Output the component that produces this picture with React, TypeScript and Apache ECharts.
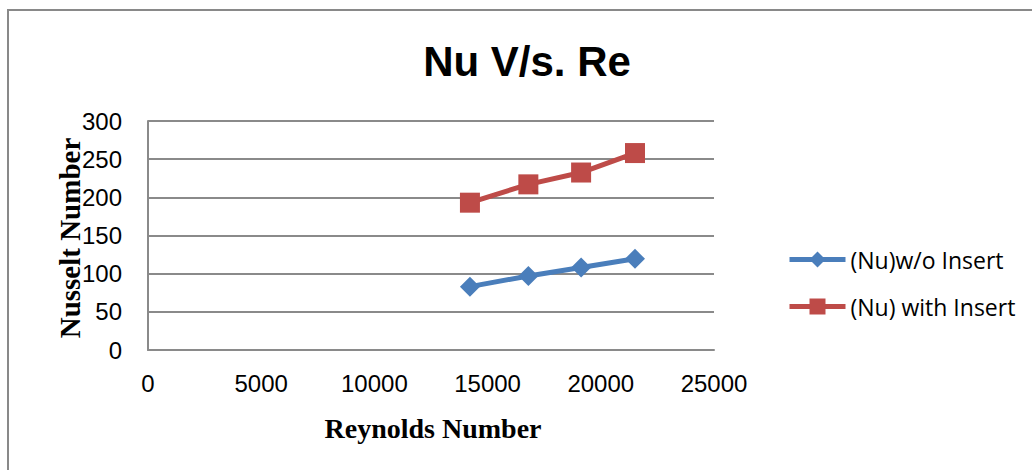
import React, { useEffect, useRef } from "react";
import * as echarts from "echarts";

const reynolds: number[] = [14220, 16800, 19130, 21510];
const nuWithout: number[] = [83, 97, 108, 119.5];
const nuWith: number[] = [193, 217, 232.5, 258];
const seriesNames: string[] = ["(Nu)w/o Insert", "(Nu) with Insert"];
const titleText = "Nu V/s. Re";
const xName = "Reynolds Number";
const yName = "Nusselt Number";

export default function App() {
  const ref = useRef<HTMLDivElement>(null);
  useEffect(() => {
    if (!ref.current) return;
    const chart = echarts.init(ref.current, undefined, { renderer: "svg" });
    const gridColor = "#8a8a8a";
    chart.setOption({
      animation: false,
      backgroundColor: "#ffffff",
      grid: { left: 148, right: 318, top: 121, bottom: 120, containLabel: false },
      xAxis: {
        type: "value",
        min: 0,
        max: 25000,
        interval: 5000,
        axisLine: { show: true, lineStyle: { color: gridColor, width: 2 } },
        axisTick: { show: false },
        splitLine: { show: false },
        axisLabel: {
          margin: 21,
          color: "#000",
          fontSize: 24,
          fontFamily: "Liberation Sans",
          formatter: (v: number) => String(v),
        },
      },
      yAxis: {
        type: "value",
        min: 0,
        max: 300,
        interval: 50,
        axisLine: { show: true, lineStyle: { color: gridColor, width: 2 } },
        axisTick: { show: false },
        splitLine: { show: true, lineStyle: { color: gridColor, width: 2 } },
        axisLabel: {
          margin: 26,
          color: "#000",
          fontSize: 24,
          fontFamily: "Liberation Sans",
          formatter: (v: number) => String(v),
        },
      },
      legend: {
        orient: "vertical",
        left: 787,
        top: 248,
        padding: 0,
        itemWidth: 56,
        itemHeight: 20,
        itemGap: 24,
        lineStyle: { width: 5 },
        textStyle: { fontSize: 23, fontFamily: "Open Sans", color: "#000" },
        data: seriesNames,
      },
      series: [
        {
          name: seriesNames[0],
          type: "line",
          data: reynolds.map((x, i) => [x, nuWithout[i]]),
          symbol: "diamond",
          symbolSize: 20,
          itemStyle: { color: "#4A7EBB" },
          lineStyle: { color: "#4A7EBB", width: 5 },
        },
        {
          name: seriesNames[1],
          type: "line",
          data: reynolds.map((x, i) => [x, nuWith[i]]),
          symbol: "rect",
          symbolSize: 20,
          itemStyle: { color: "#BE4B48" },
          lineStyle: { color: "#BE4B48", width: 5 },
        },
      ],
      graphic: [
        {
          type: "rect",
          shape: { x: 8, y: 10, width: 1200, height: 1000 },
          style: { fill: "none", stroke: "#898989", lineWidth: 2 },
          silent: true,
        },
        {
          type: "text",
          x: 527,
          y: 61,
          style: {
            text: titleText,
            fontSize: 42,
            fontWeight: "bold",
            fontFamily: "Liberation Sans",
            fill: "#000",
            textAlign: "center",
            textVerticalAlign: "middle",
          },
        },
        {
          type: "text",
          x: 433,
          y: 428,
          style: {
            text: xName,
            fontSize: 28,
            fontWeight: "bold",
            fontFamily: "Liberation Serif",
            fill: "#000",
            textAlign: "center",
            textVerticalAlign: "middle",
          },
        },
        {
          type: "text",
          x: 70,
          y: 238,
          rotation: Math.PI / 2,
          style: {
            text: yName,
            fontSize: 29,
            fontWeight: "bold",
            fontFamily: "Liberation Serif",
            fill: "#000",
            textAlign: "center",
            textVerticalAlign: "middle",
          },
        },
      ],
    });
    return () => chart.dispose();
  }, []);
  return (
    <div
      ref={ref}
      style={{ position: "absolute", left: 0, top: 0, width: 1032, height: 470 }}
    />
  );
}
